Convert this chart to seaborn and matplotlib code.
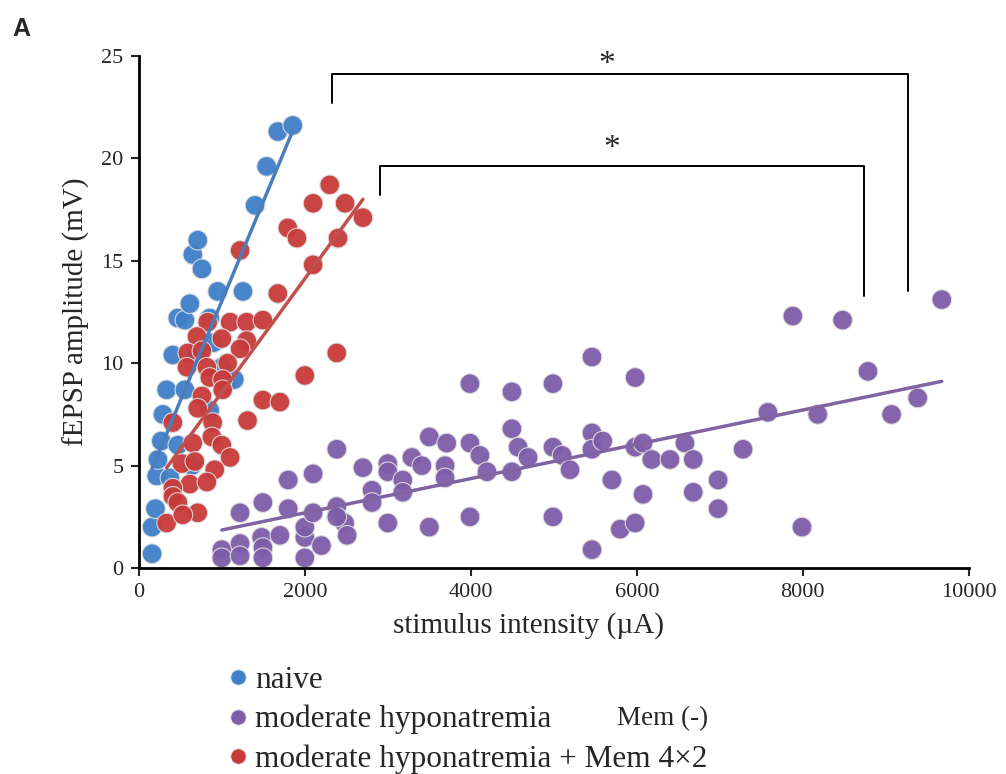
import numpy as np
import pandas as pd
import matplotlib
matplotlib.use("Agg")
import matplotlib.pyplot as plt
import seaborn as sns
from matplotlib.lines import Line2D

# naive
naive_x = [160, 160, 200, 215, 375, 230, 270, 290, 335, 410, 470, 555, 615, 650, 710, 760,
           950, 1255, 1400, 1540, 1675, 1855, 855, 700, 855, 555, 470, 640, 900,
           1050, 1150, 1000]
naive_y = [0.7, 2.0, 2.9, 4.5, 4.4, 5.3, 6.2, 7.5, 8.7, 10.4, 12.2, 12.1, 12.9, 15.3, 16.0, 14.6,
           13.5, 13.5, 17.7, 19.6, 21.3, 21.6, 12.2, 10.4, 7.7, 8.7, 6.0, 5.0, 11.0,
           9.0, 9.2, 9.8]

# moderate hyponatremia + Mem 4x2
mem_x = [2300, 2100, 2485, 2700, 1795, 1905, 2400, 1220, 2100, 1675, 830, 1100, 1300, 1495,
         700, 1000, 1300, 590, 760, 1220, 2385, 580, 820, 1070, 2000, 855, 1010, 760, 1010,
         1495, 1700, 710, 410, 890, 1310, 650, 880, 1000, 1100, 520, 675, 915, 615, 820,
         410, 410, 470, 710, 335, 530]
mem_y = [18.7, 17.8, 17.8, 17.1, 16.6, 16.1, 16.1, 15.5, 14.8, 13.4, 12.0, 12.0, 12.0, 12.1,
         11.3, 11.2, 11.1, 10.5, 10.6, 10.7, 10.5, 9.8, 9.8, 10.0, 9.4, 9.3, 9.2, 8.4, 8.7,
         8.2, 8.1, 7.8, 7.1, 7.1, 7.2, 6.1, 6.4, 6.0, 5.4, 5.1, 5.2, 4.8, 4.1, 4.2,
         3.9, 3.5, 3.2, 2.7, 2.2, 2.6]

# moderate hyponatremia, Mem (-)
hypo_x = [1000, 1000, 1220, 1220, 1480, 1495, 1495, 1700, 2000, 2000, 2000, 2200, 2480, 2510,
          1220, 1495, 1800, 1800, 2100, 2100, 2385, 2385, 2385, 2700, 2810, 2810, 3000, 3000,
          3000, 3180, 3180, 3290, 3410, 3500, 3710, 3500, 3690, 3690, 3990, 3990, 3990, 4110,
          4195, 4495, 4495, 4495, 4570, 4690, 4990, 4990, 4990, 5100, 5195, 5460, 5460, 5460,
          5460, 5980, 5590, 5700, 5980, 6075, 6180, 6400, 6580, 6680, 6075, 6680, 6980, 6980,
          7280, 7580, 8180, 7880, 8480, 8785, 9070, 9385, 9675, 7990, 5800, 5980]
hypo_y = [0.9, 0.5, 1.2, 0.6, 1.5, 1.0, 0.5, 1.6, 0.5, 1.5, 2.0, 1.1, 2.2, 1.6,
          2.7, 3.2, 4.3, 2.9, 4.6, 2.7, 5.8, 3.0, 2.5, 4.9, 3.8, 3.2, 5.1, 4.7,
          2.2, 4.3, 3.7, 5.4, 5.0, 6.4, 6.1, 2.0, 5.0, 4.4, 9.0, 6.1, 2.5, 5.5,
          4.7, 8.6, 6.8, 4.7, 5.9, 5.4, 9.0, 5.9, 2.5, 5.5, 4.8, 10.3, 6.6, 5.8,
          0.9, 9.3, 6.2, 4.3, 5.9, 6.1, 5.3, 5.3, 6.1, 5.3, 3.6, 3.7, 4.3, 2.9,
          5.8, 7.6, 7.5, 12.3, 12.1, 9.6, 7.5, 8.3, 13.1, 2.0, 1.9, 2.2]

groups = ["naive", "moderate hyponatremia", "moderate hyponatremia + Mem 4\u00d72"]
colors = ["#3f7fc8", "#7d5ca8", "#c83a3a"]
line_colors = ["#4a7ebb", "#8064a2", "#c0504d"]

# significance brackets (x_left, x_right, y_top, left leg bottom, right leg bottom, star x, star y)
brackets = [(2325, 9265, 24.1, 22.7, 13.5, 5640, 23.8),
            (2905, 8735, 19.6, 18.2, 13.3, 5700, 19.7)]

df = pd.concat([
    pd.DataFrame({"x": naive_x, "y": naive_y, "group": groups[0]}),
    pd.DataFrame({"x": hypo_x, "y": hypo_y, "group": groups[1]}),
    pd.DataFrame({"x": mem_x, "y": mem_y, "group": groups[2]}),
])

sns.set_style("white")
plt.rcParams["font.family"] = ["Liberation Serif", "DejaVu Serif"]

fig = plt.figure(figsize=(10.06, 7.74), dpi=100)
ax = fig.add_axes([0.138, 0.266, 0.825, 0.662])

pal = dict(zip(groups, colors))
sns.scatterplot(data=df, x="x", y="y", hue="group", palette=pal, s=200,
                edgecolor="#dddddd", linewidth=0.8, alpha=0.95, legend=False, ax=ax, zorder=2)

for g, lc in zip(groups, line_colors):
    sub = df[df["group"] == g]
    sns.regplot(data=sub, x="x", y="y", scatter=False, ci=None, ax=ax,
                line_kws={"color": lc, "lw": 2.5, "zorder": 3})

for xl, xr, yt, yl, yr, sx, sy in brackets:
    ax.plot([xl, xl, xr, xr], [yl, yt, yt, yr], color="black", lw=1.4, clip_on=False, zorder=4)
    ax.text(sx, sy, "*", ha="center", va="bottom", fontsize=24, clip_on=False)

ax.set_xlim(0, 10000)
ax.set_ylim(0, 25)
ax.set_xticks([0, 2000, 4000, 6000, 8000, 10000])
ax.set_yticks([0, 5, 10, 15, 20, 25])
ax.tick_params(axis="both", labelsize=16, length=6, width=1.5, direction="out",
               left=True, bottom=True, pad=5)
ax.set_xlabel("stimulus intensity (\u00b5A)", fontsize=21, labelpad=4)
ax.xaxis.set_label_coords(0.469, -0.085)
ax.set_ylabel("fEPSP amplitude (mV)", fontsize=21, labelpad=8)
sns.despine(ax=ax)
for s in ["left", "bottom"]:
    ax.spines[s].set_linewidth(2)
    ax.spines[s].set_color("black")

handles = [Line2D([], [], marker="o", ls="", markersize=11, markerfacecolor=c,
                  markeredgecolor="#dddddd", markeredgewidth=0.6) for c in colors]
fig.legend(handles, groups, loc="upper left", bbox_to_anchor=(0.224, 0.140),
           frameon=False, fontsize=22.5, handletextpad=0.15, labelspacing=0.33,
           borderaxespad=0, borderpad=0, handlelength=0.8)
fig.text(0.613, 0.072, "Mem (-)", fontsize=19.5, ha="left", va="center")

fig.text(0.012, 0.962, "A", fontsize=18, fontweight="bold", family="Liberation Sans",
         va="center")

fig.savefig("out.png", dpi=100)
